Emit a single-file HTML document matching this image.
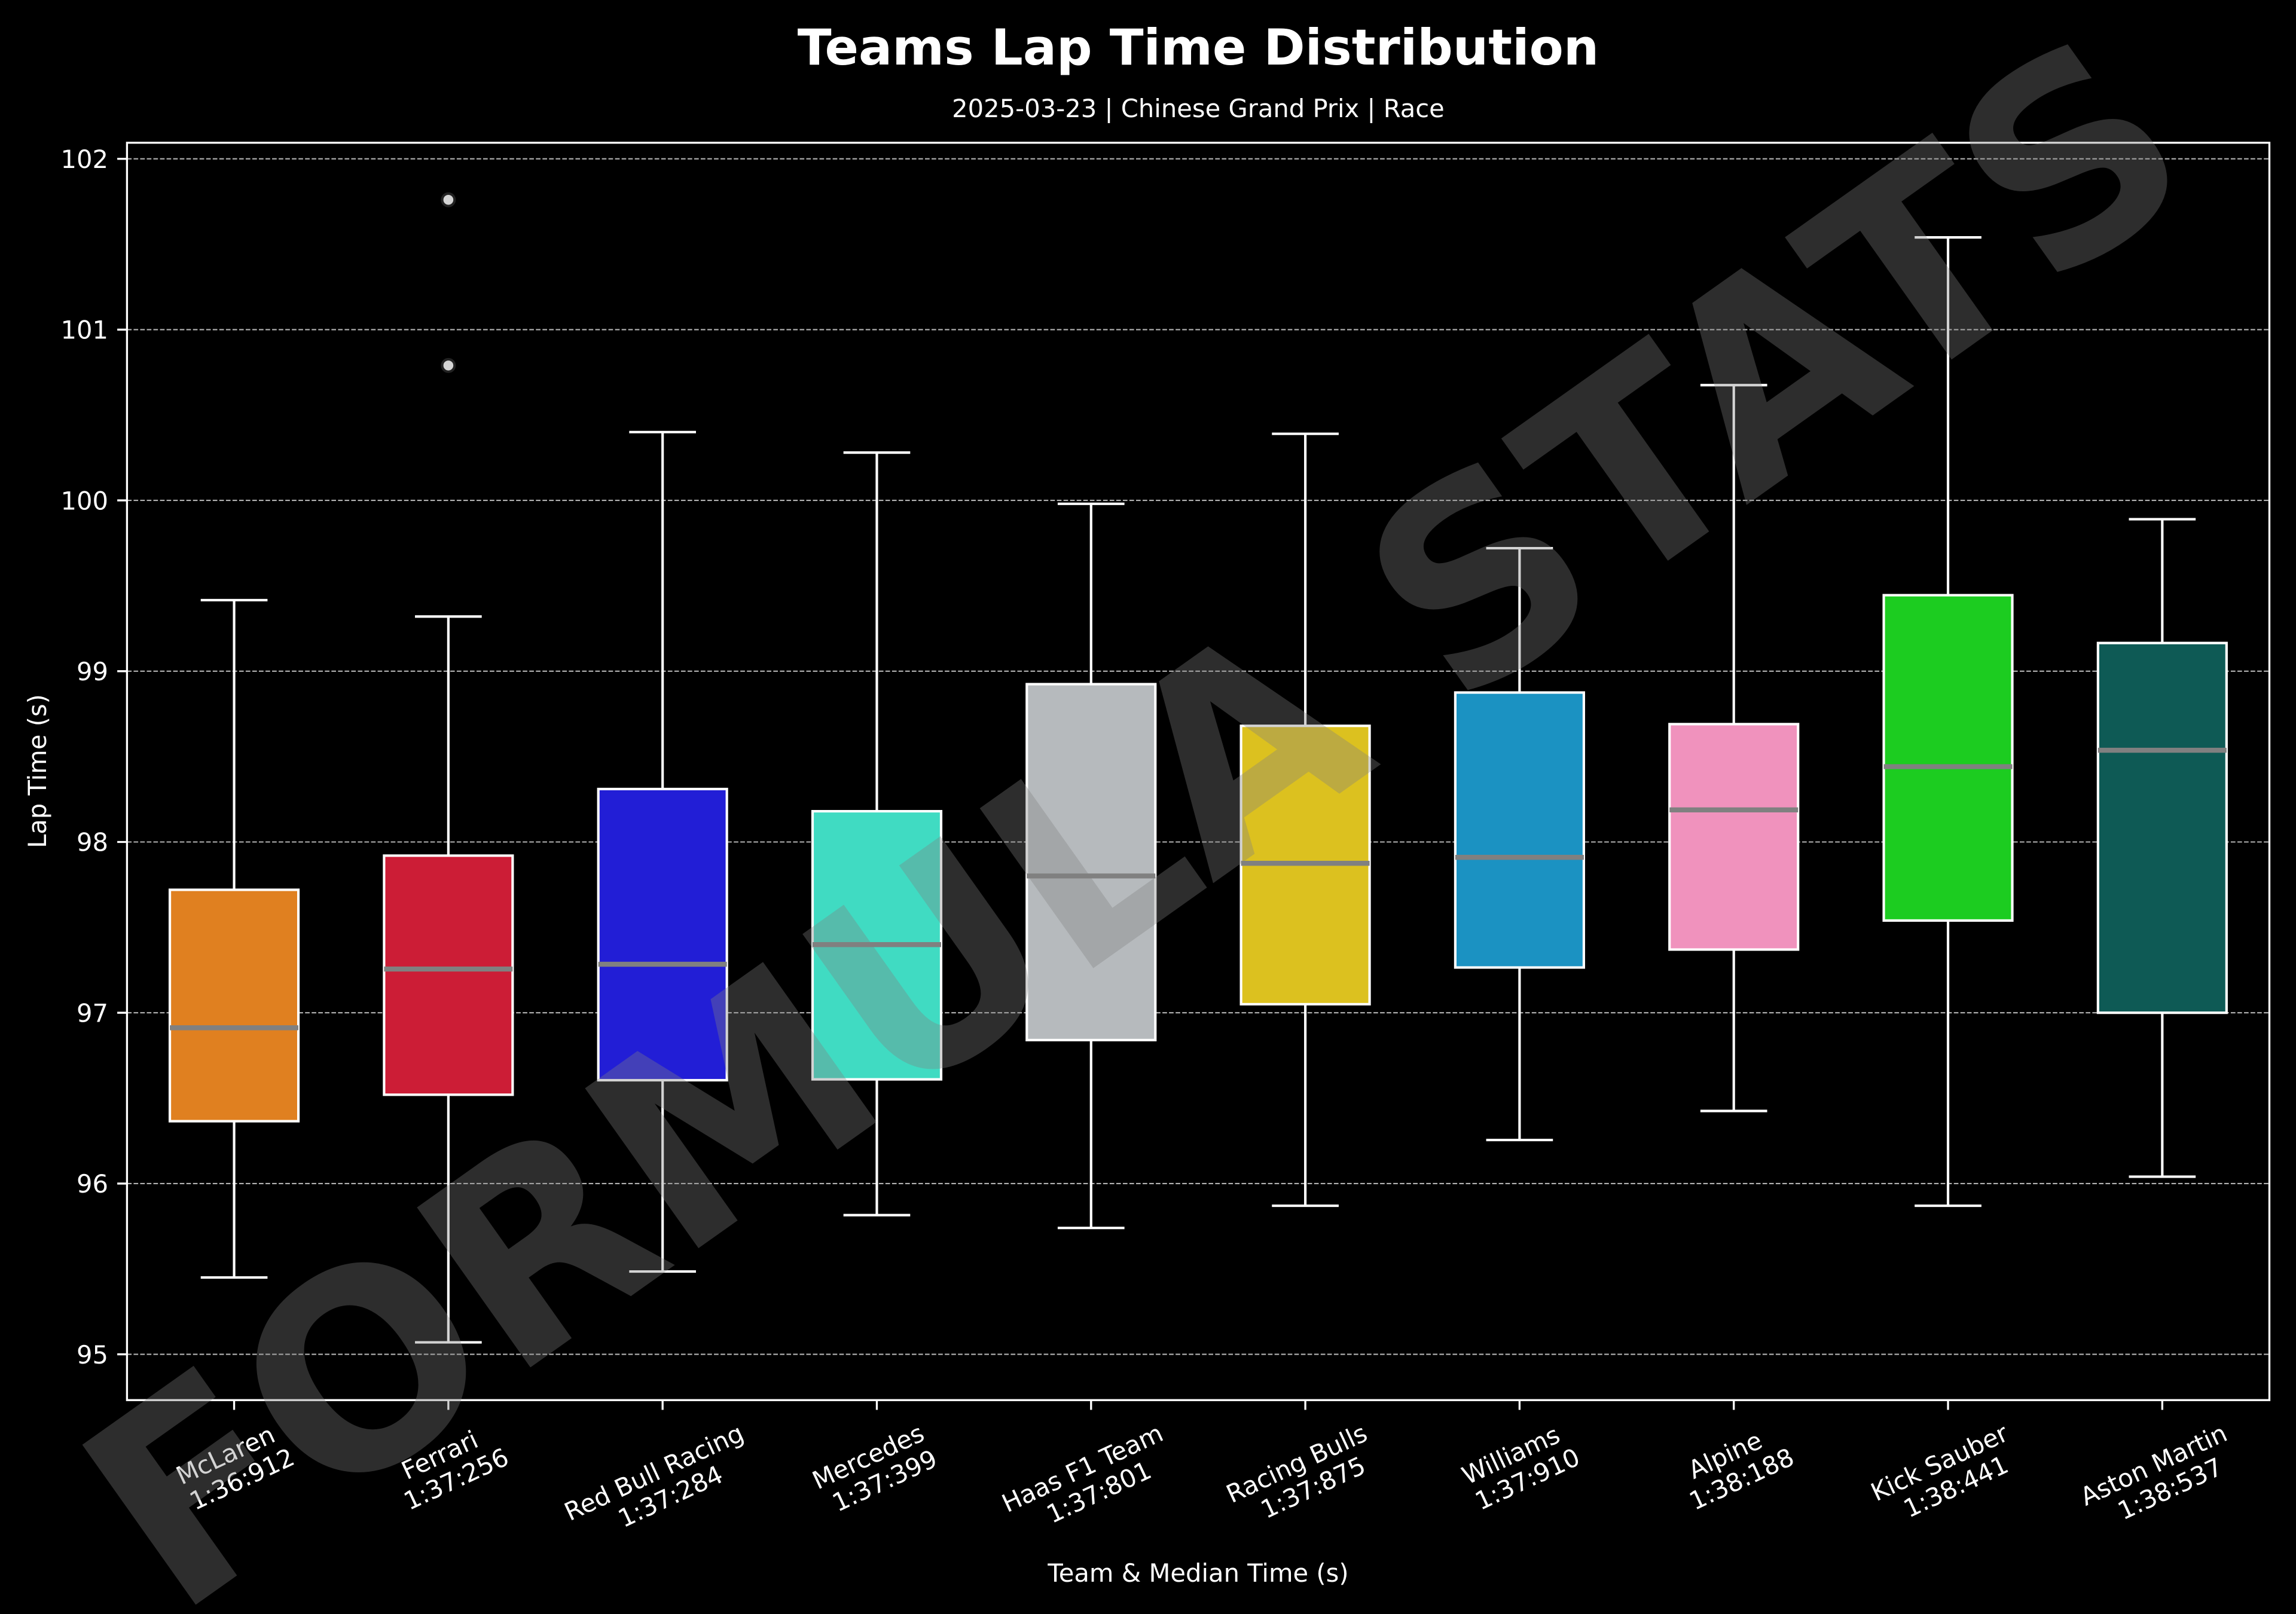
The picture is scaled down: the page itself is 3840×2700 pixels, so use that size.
<!DOCTYPE html>
<html>
<head>
<meta charset="utf-8">
<title>Teams Lap Time Distribution</title>
<style>
html,body{margin:0;padding:0;background:#000;}
svg{display:block;}
text{font-family:"DejaVu Sans","Liberation Sans",sans-serif;fill:#fff;}
</style>
</head>
<body>
<svg id="chart" xmlns="http://www.w3.org/2000/svg" width="3840" height="2700" viewBox="0 0 3840 2700">
<rect x="0" y="0" width="3840" height="2700" fill="#000"/>
<text x="2004" y="108" text-anchor="middle" font-size="83.33" font-weight="700">Teams Lap Time Distribution</text>
<text x="2004" y="196" text-anchor="middle" font-size="41.67">2025-03-23 | Chinese Grand Prix | Race</text>
<text transform="translate(77 1290) rotate(-90)" text-anchor="middle" font-size="41.67">Lap Time (s)</text>
<text x="2004" y="2646" text-anchor="middle" font-size="41.67">Team &amp; Median Time (s)</text>
<g id="grid"></g>
<g id="boxes"></g>
<g id="axes"></g>
<g id="xlabels"></g>
<text transform="translate(1920 1350) rotate(-35.35)" x="-33.5" y="167" text-anchor="middle" font-size="450" font-weight="700" letter-spacing="-1.85" style="fill:#808080;fill-opacity:.35">FORMULA STATS</text>
</svg>
<script>
const teams = ["McLaren","Ferrari","Red Bull Racing","Mercedes","Haas F1 Team","Racing Bulls","Williams","Alpine","Kick Sauber","Aston Martin"];
const medianLabels = ["1:36:912","1:37:256","1:37:284","1:37:399","1:37:801","1:37:875","1:37:910","1:38:188","1:38:441","1:38:537"];
const medians = [96.912,97.256,97.284,97.399,97.801,97.875,97.910,98.188,98.441,98.537];
const q1 = [96.365,96.52,96.605,96.61,96.84,97.05,97.265,97.37,97.54,97.00];
const q3 = [97.72,97.92,98.31,98.18,98.924,98.68,98.875,98.69,99.445,99.165];
const whiskerLow = [95.45,95.07,95.485,95.815,95.74,95.87,96.255,96.425,95.87,96.04];
const whiskerHigh = [99.416,99.32,100.40,100.28,99.98,100.39,99.72,100.675,101.54,99.89];
const outliers = [[],[101.76,100.79],[],[],[],[],[],[],[],[]];
const colors = ["#e08020","#cc1d36","#221ed6","#40dbc2","#b6babd","#dcc11f","#1b92c2","#f092bd","#1ccc20","#0e5a55"];
const yTicks = [95,96,97,98,99,100,101,102];

const NS = "http://www.w3.org/2000/svg";
const plotLeft = 212.4, plotRight = 3795.5, plotTop = 238.8, plotBottom = 2342.2;
const y102 = 265.7, pxPerUnit = 285.7;
const step = (plotRight - plotLeft) / teams.length;
const boxWidth = 0.6 * step, capWidth = 0.3 * step;
const LW = 4.17;

function xScale(i){ return plotLeft + (i + 0.5) * step; }
function yScale(v){ return y102 + (102 - v) * pxPerUnit; }
function make(tag, parent, attrs){
  const el = document.createElementNS(NS, tag);
  for (const k in attrs) el.setAttribute(k, attrs[k]);
  parent.appendChild(el);
  return el;
}
function slug(s){ return s.toLowerCase().replace(/[^a-z0-9]+/g, '-'); }

const grid = document.getElementById('grid');
const boxes = document.getElementById('boxes');
const axes = document.getElementById('axes');
const xlabels = document.getElementById('xlabels');

yTicks.forEach(function(t){
  const line = make('line', grid, {x1:plotLeft, x2:plotRight, y1:yScale(t), y2:yScale(t), stroke:'#fff', 'stroke-opacity':0.7, 'stroke-width':2.08, 'stroke-dasharray':'7.7 3.33'});
  
  
});

teams.forEach(function(team, i){
  const x = xScale(i);
  const name = slug(team);
  const g = make('g', boxes, {});
  
  

  const wHi = make('line', g, {x1:x, x2:x, y1:yScale(q3[i]), y2:yScale(whiskerHigh[i]), stroke:'#fff', 'stroke-width':LW});
  
  

  const wLo = make('line', g, {x1:x, x2:x, y1:yScale(q1[i]), y2:yScale(whiskerLow[i]), stroke:'#fff', 'stroke-width':LW});
  
  

  const capHi = make('line', g, {x1:x - capWidth / 2 - LW / 2, x2:x + capWidth / 2 + LW / 2, y1:yScale(whiskerHigh[i]), y2:yScale(whiskerHigh[i]), stroke:'#fff', 'stroke-width':LW});
  
  

  const capLo = make('line', g, {x1:x - capWidth / 2 - LW / 2, x2:x + capWidth / 2 + LW / 2, y1:yScale(whiskerLow[i]), y2:yScale(whiskerLow[i]), stroke:'#fff', 'stroke-width':LW});
  
  

  const box = make('rect', g, {x:x - boxWidth / 2, y:yScale(q3[i]), width:boxWidth, height:yScale(q1[i]) - yScale(q3[i]), fill:colors[i], stroke:'#fff', 'stroke-width':LW});
  
  

  const med = make('line', g, {x1:x - boxWidth / 2, x2:x + boxWidth / 2, y1:yScale(medians[i]), y2:yScale(medians[i]), stroke:'#808080', 'stroke-width':8.33});
  
  

  outliers[i].forEach(function(v){
    const c = make('circle', g, {cx:x, cy:yScale(v), r:10.4, fill:'#d4d4d4', stroke:'#222', 'stroke-width':4.17});
    
    
  });

  const tick = make('line', axes, {x1:x, x2:x, y1:plotBottom, y2:plotBottom + 16.3, stroke:'#fff', 'stroke-width':3.33});
  
  

  const lg = make('g', xlabels, {});
  
  
  const t1 = make('text', lg, {'text-anchor':'middle', 'font-size':41.67, x:-5, y:-9});
  t1.textContent = team;
  
  
  const t2 = make('text', lg, {'text-anchor':'middle', 'font-size':41.67, x:3, y:39});
  t2.textContent = medianLabels[i];
  
  
  const W = Math.max(t1.getComputedTextLength(), t2.getComputedTextLength());
  const H = 90, a = 25 * Math.PI / 180;
  const h = W * Math.sin(a) + H * Math.cos(a);
  const cy = 2373 + h / 2;
  lg.setAttribute('transform', 'translate(' + x + ' ' + cy + ') rotate(-25)');
});

yTicks.forEach(function(t){
  const tick = make('line', axes, {x1:plotLeft - 16.3, x2:plotLeft, y1:yScale(t), y2:yScale(t), stroke:'#fff', 'stroke-width':3.33});
  
  
  const lab = make('text', axes, {x:181, y:yScale(t) + 15.2, 'text-anchor':'end', 'font-size':41.67});
  lab.textContent = t;
  
  
});

const frame = make('rect', axes, {x:plotLeft, y:plotTop, width:plotRight - plotLeft, height:plotBottom - plotTop, fill:'none', stroke:'#fff', 'stroke-width':3.33});


</script>
</body>
</html>
